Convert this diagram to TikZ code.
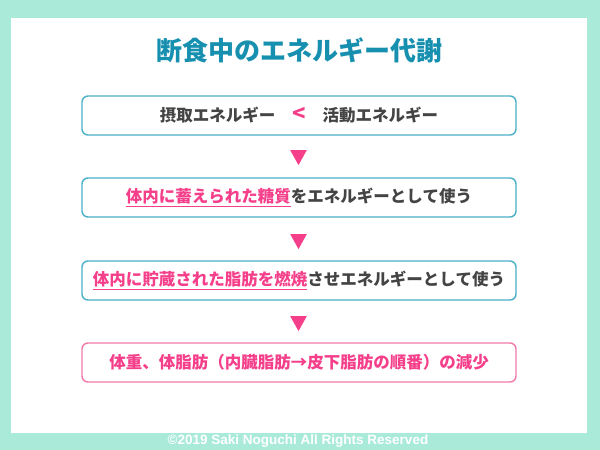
\documentclass[tikz,border=0pt]{standalone}
\usepackage{fontspec}
\newfontfamily\jp{Noto Sans CJK JP}
\newfontfamily\ftr{Liberation Sans}
\definecolor{frameteal}{HTML}{A9EAD9}
\definecolor{titleblue}{HTML}{1790B0}
\definecolor{boxteal}{HTML}{4BB0C8}
\definecolor{pinkc}{HTML}{F53F8A}
\definecolor{pinkbox}{HTML}{F27AAA}
\definecolor{txtgray}{HTML}{444444}
\usetikzlibrary{shapes.geometric}
\tikzset{
  stepbox/.style={draw=boxteal, line width=1.4pt, rounded corners=6pt, fill=white,
    minimum width=434pt, minimum height=39pt, inner sep=0pt,
    font=\jp\bfseries\fontsize{16.5pt}{18pt}\selectfont, text=txtgray},
  endbox/.style={stepbox, draw=pinkbox, text=pinkc},
  tri/.style={fill=pinkc, isosceles triangle, shape border rotate=-90, isosceles triangle apex angle=58,
    minimum height=15pt, inner sep=0pt},
}
\newcommand{\pk}[1]{{\color{pinkc}\underline{#1}}}
\begin{document}
\begin{tikzpicture}[x=1pt,y=-1pt]
\fill[frameteal] (0,0) rectangle (600,450);
\fill[white] (11,18) rectangle (587,433);
\useasboundingbox (0,0) rectangle (600,450);
\node[font=\jp\bfseries\fontsize{26pt}{28pt}\selectfont, text=titleblue] (title) at (299,50) {断食中のエネルギー代謝};
\node[stepbox] (b1) at (299,115.5) {摂取エネルギー\hspace{17pt}{\color{pinkc}\fontsize{22pt}{22pt}\selectfont <}\hspace{17pt}活動エネルギー};
\node[stepbox] (b2) at (299,197.5) {\pk{体内に蓄えられた糖質}をエネルギーとして使う};
\node[stepbox] (b3) at (299,280.5) {\pk{体内に貯蔵された脂肪を燃焼}させエネルギーとして使う};
\node[endbox] (b4) at (299,362.5) {体重、体脂肪（内臓脂肪→皮下脂肪の順番）の減少};
\node[tri] (t1) at (298.5,155) {};
\node[tri] (t2) at (298.5,239) {};
\node[tri] (t3) at (298.5,321) {};
\node[font=\ftr\bfseries\fontsize{13.5pt}{15pt}\selectfont, text=white] (foot) at (298,441) {©2019 Saki Noguchi All Rights Reserved};
\end{tikzpicture}
\end{document}
